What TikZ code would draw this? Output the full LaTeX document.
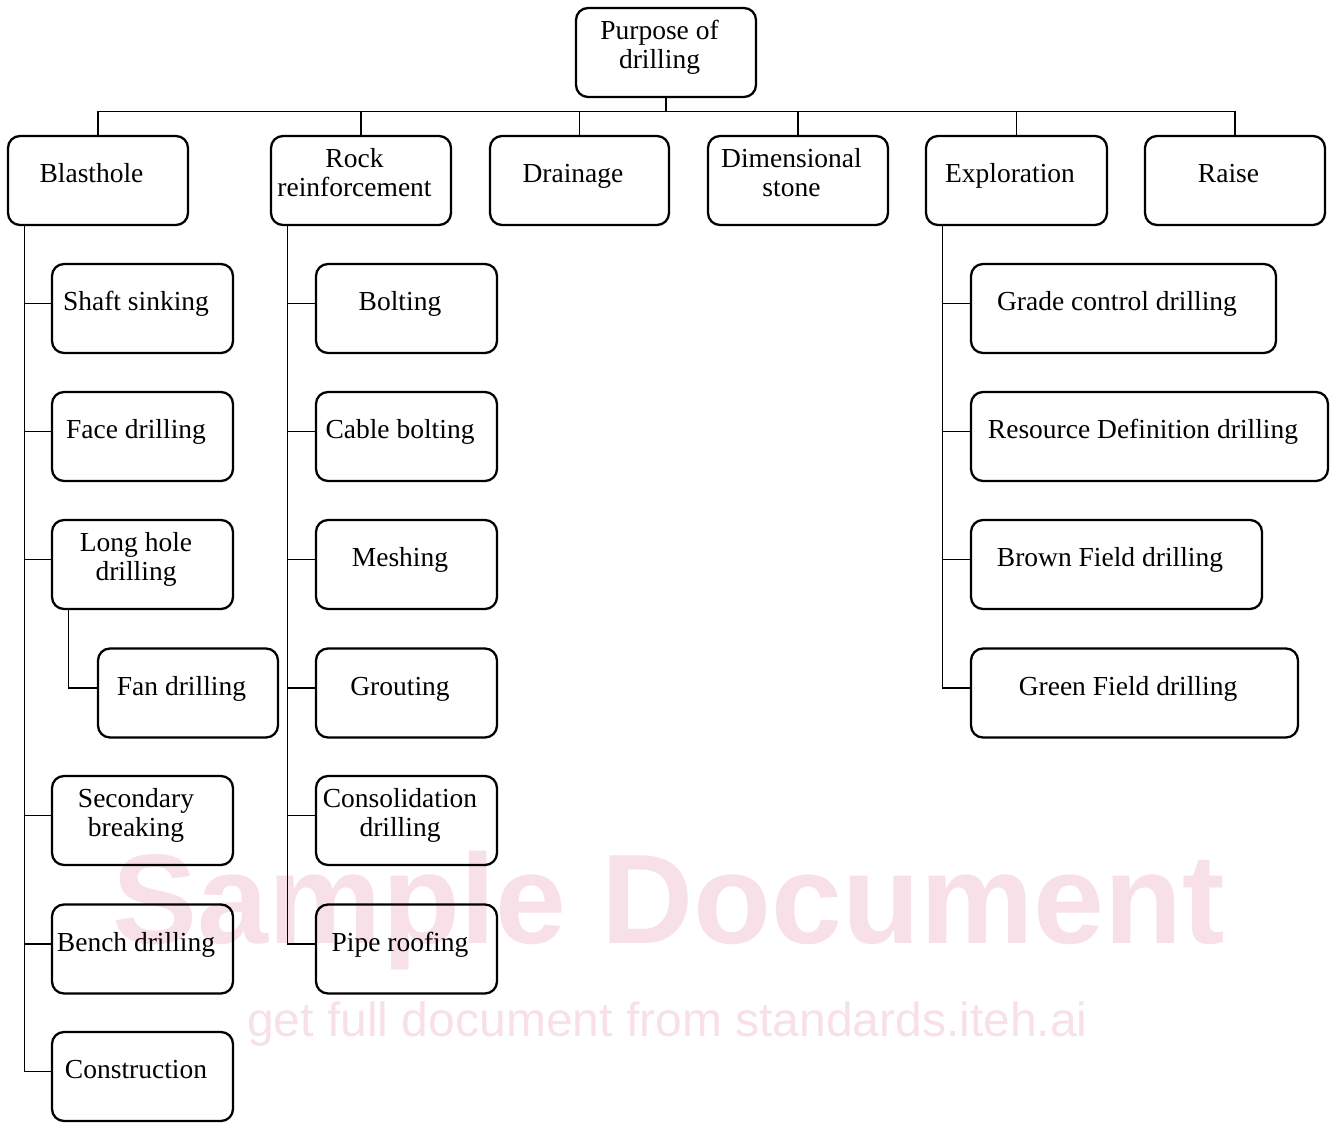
\documentclass[tikz,border=0pt]{standalone}
\usepackage{fontspec}
\setmainfont{Liberation Serif}
\newfontfamily\wmfont{Liberation Sans}
\usetikzlibrary{calc}
\definecolor{wmpink}{RGB}{248,224,232}
\tikzset{
  bx/.style={draw, line width=2.3pt, rounded corners=12pt, minimum height=89pt, inner sep=0pt},
  tx/.style={anchor=base, inner sep=0pt, font=\fontsize{27.5}{29}\selectfont},
  ln/.style={line width=1.3pt},
  wm/.style={anchor=base, inner sep=0pt, text=wmpink}
}
\newcommand\onebox[5]{%
  \node[bx, minimum width=#4pt] (#1) at (#2,#3) {};
  \node[tx] (#1t) at ($(#1.center)+(-6.5,2)$) {#5};}
\newcommand\twobox[6]{%
  \node[bx, minimum width=#4pt] (#1) at (#2,#3) {};
  \node[tx] (#1ta) at ($(#1.center)+(-6.5,-13)$) {#5};
  \node[tx] (#1tb) at ($(#1.center)+(-6.5,16)$) {#6};}
\begin{document}
\begin{tikzpicture}[x=1pt, y=-1pt]
\useasboundingbox (0,0) rectangle (1332,1124);
% watermark
\node[wm, font=\wmfont\bfseries\fontsize{127.5}{130}\selectfont] (wm1) at (669,943) {Sample Document};
\node[wm, font=\wmfont\fontsize{48}{50}\selectfont] (wm2) at (667.5,1036) {get full document from standards.iteh.ai};
% root
\twobox{root}{666}{52.5}{180}{Purpose of}{drilling}
% level 1
\onebox{bl}{98}{180.5}{180}{Blasthole}
\twobox{rr}{361}{180.5}{180}{Rock}{reinforcement}
\onebox{dr}{579.5}{180.5}{179}{Drainage}
\twobox{ds}{798}{180.5}{180}{Dimensional}{stone}
\onebox{ex}{1016.5}{180.5}{181}{Exploration}
\onebox{ra}{1235}{180.5}{180}{Raise}
% blasthole children
\onebox{ss}{142.5}{308.5}{181}{Shaft sinking}
\onebox{fd}{142.5}{436.5}{181}{Face drilling}
\twobox{lh}{142.5}{564.5}{181}{Long hole}{drilling}
\onebox{fa}{188}{693}{180}{Fan drilling}
\twobox{sb}{142.5}{820.5}{181}{Secondary}{breaking}
\onebox{bd}{142.5}{949}{181}{Bench drilling}
\onebox{co}{142.5}{1076.5}{181}{Construction}
% rock reinforcement children
\onebox{bo}{406.5}{308.5}{181}{Bolting}
\onebox{cb}{406.5}{436.5}{181}{Cable bolting}
\onebox{me}{406.5}{564.5}{181}{Meshing}
\onebox{gr}{406.5}{693}{181}{Grouting}
\twobox{cd}{406.5}{820.5}{181}{Consolidation}{drilling}
\onebox{pr}{406.5}{949}{181}{Pipe roofing}
% exploration children
\onebox{gc}{1123.5}{308.5}{305}{Grade control drilling}
\onebox{rd}{1149.5}{436.5}{357}{Resource Definition drilling}
\onebox{bf}{1116.5}{564.5}{291}{Brown Field drilling}
\onebox{gf}{1134.5}{693}{327}{Green Field drilling}
% connectors
\draw[ln] (root.south) -- ++(0,13) coordinate (bus);
\foreach \n in {bl,rr,dr,ds,ex,ra} \draw[ln] (bus) -| (\n.north);
\foreach \n in {ss,fd,lh,sb,bd,co} \draw[ln] ([xshift=17.5pt]bl.south west) |- ([yshift=5pt]\n.west);
\draw[ln] ([xshift=17.5pt]lh.south west) |- ([yshift=5pt]fa.west);
\foreach \n in {bo,cb,me,gr,cd,pr} \draw[ln] ([xshift=17.5pt]rr.south west) |- ([yshift=5pt]\n.west);
\foreach \n in {gc,rd,bf,gf} \draw[ln] ([xshift=17.5pt]ex.south west) |- ([yshift=5pt]\n.west);
\end{tikzpicture}
\end{document}
